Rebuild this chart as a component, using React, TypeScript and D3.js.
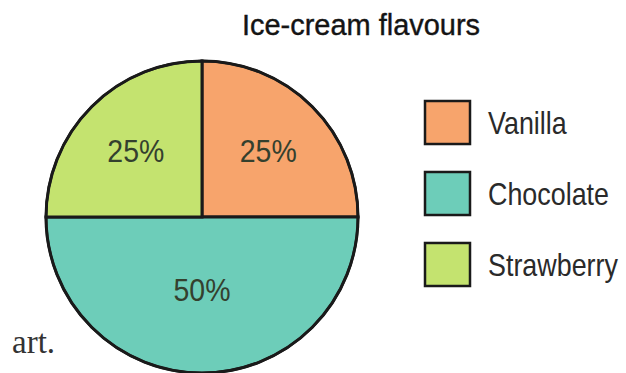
import React from "react";
import * as d3 from "d3";

const categories = ["Vanilla", "Chocolate", "Strawberry"];
const values = [25, 50, 25];
const colors = ["#f7a46c", "#6dcdb9", "#c4e36f"];
const title = "Ice-cream flavours";
const footnote = "art.";

const W = 626;
const H = 373;

export default function App() {
  const cx = 202;
  const cy = 217;
  const r = 156;
  const total = d3.sum(values);
  const pie = d3.pie<number>().sort(null).value((d) => d);
  const arcs = pie(values);
  const arcGen = d3.arc<d3.PieArcDatum<number>>().innerRadius(0).outerRadius(r);
  const sans = "'Liberation Sans Narrow', 'Liberation Sans', Arial, sans-serif";

  const legendY = d3.scaleBand<string>().domain(categories).range([101, 286]).paddingInner(0.394).paddingOuter(0);

  return (
    <svg width={W} height={H} style={{ position: "absolute", left: 0, top: 0, background: "#fff" }}>
      <text x={361} y={35} textAnchor="middle" fontFamily={sans} fontSize={30} fill="#141414" stroke="#141414" strokeWidth={0.4} textLength={238} lengthAdjust="spacingAndGlyphs">
        {title}
      </text>
      <g transform={`translate(${cx},${cy})`}>
        {arcs.map((a, i) => (
          <path key={i} d={arcGen(a) || ""} fill={colors[i]} stroke="#1a1a1a" strokeWidth={3} strokeLinejoin="miter" />
        ))}
        <circle r={r} fill="none" stroke="#1a1a1a" strokeWidth={2.5} />
        {arcs.map((a, i) => {
          const half = (a.endAngle - a.startAngle) / 2;
          const mid = (a.startAngle + a.endAngle) / 2;
          const rc = (2 * r * Math.sin(half)) / (3 * half);
          const x = rc * Math.sin(mid);
          const y = -rc * Math.cos(mid) + (half > 1 ? 6 : 0);
          return (
            <text key={i} x={x} y={y} dy="0.36em" textAnchor="middle" fontFamily={sans} fontSize={32} fill="#34402e" textLength={57} lengthAdjust="spacingAndGlyphs">
              {`${Math.round((values[i] / total) * 100)}%`}
            </text>
          );
        })}
      </g>
      {categories.map((c, i) => {
        const y = legendY(c) as number;
        const h = legendY.bandwidth();
        return (
          <g key={c}>
            <rect x={425} y={y} width={45} height={h} fill={colors[i]} stroke="#1a1a1a" strokeWidth={2.5} />
            <text transform={`translate(488,${y + h / 2}) scale(0.84,1)`} dy="0.36em" fontFamily={sans} fontSize={32} fill="#2a2a2a">
              {c}
            </text>
          </g>
        );
      })}
      <text x={12} y={353} fontFamily="'Liberation Serif', 'DejaVu Serif', serif" fontSize={33} fill="#333">
        {footnote}
      </text>
    </svg>
  );
}
